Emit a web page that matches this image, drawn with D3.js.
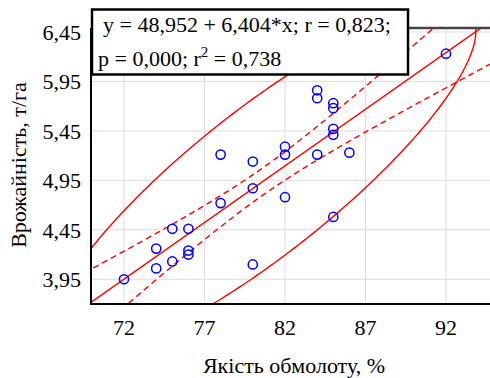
<!DOCTYPE html>
<html><head><meta charset="utf-8">
<script src="https://cdn.jsdelivr.net/npm/d3@7"></script>
<style>html,body{margin:0;padding:0;background:#fff;overflow:hidden}</style>
</head><body>
<svg id="c" width="490" height="378"></svg>
<script>
// Data
const threshQuality = [92,84,84,85,85,85,85,82,82,78,84,86,80,80,78,82,85,75,76,74,76,76,75,74,80,72];
const yieldVals     = [6.23,5.86,5.78,5.73,5.68,5.47,5.41,5.29,5.21,5.21,5.21,5.23,5.14,4.87,4.72,4.78,4.58,4.46,4.46,4.26,4.24,4.20,4.13,4.06,4.10,3.95];
const xTicks = [72,77,82,87,92];
const yTicks = [3.95,4.45,4.95,5.45,5.95,6.45];
const xTitle = "Якість обмолоту, %";
const yTitle = "Врожайність, т/га";
const legendLine1 = "y = 48,952 + 6,404*x; r = 0,823;";
const legendLine2a = "p = 0,000; r";
const legendLine2sup = "2";
const legendLine2b = " = 0,738";
// statistical constants (alpha = 0.05, df = n-2 = 24)
const tCrit = 2.0639;
const fCrit = 3.4028;

const svg = d3.select("#c");
const FONT = "'Liberation Serif','Times New Roman',serif";
const L = 91, R = 494, T = 28, B = 304;
const x = d3.scaleLinear().domain([70,95]).range([91.8,494.3]);
const y = d3.scaleLinear().domain([3.7,6.49]).range([304,28]);

// stats
const n = threshQuality.length;
const mx = d3.mean(threshQuality), my = d3.mean(yieldVals);
let sxx=0, syy=0, sxy=0;
for (let i=0;i<n;i++){const dx=threshQuality[i]-mx, dy=yieldVals[i]-my; sxx+=dx*dx; syy+=dy*dy; sxy+=dx*dy;}
const b = sxy/sxx, a = my - b*mx;
const s = Math.sqrt((syy - sxy*sxy/sxx)/(n-2));
const sdx = Math.sqrt(sxx/(n-1)), sdy = Math.sqrt(syy/(n-1));
const r = sxy/Math.sqrt(sxx*syy);

svg.append("clipPath").attr("id","clip").append("rect")
  .attr("x",L).attr("y",T).attr("width",R-L).attr("height",B-T);

// grid
const g = svg.append("g");
g.selectAll(".vg").data(xTicks).join("line")
  .attr("x1",d=>x(d)).attr("x2",d=>x(d)).attr("y1",T).attr("y2",B)
  .attr("stroke","#dcdcdc").attr("stroke-width",1);
g.selectAll(".hg").data(yTicks).join("line")
  .attr("x1",L).attr("x2",R).attr("y1",d=>y(d)).attr("y2",d=>y(d))
  .attr("stroke","#dcdcdc").attr("stroke-width",1);

const plot = svg.append("g").attr("clip-path","url(#clip)");
const xs = d3.range(69, 96.01, 0.1);
const line = d3.line().x(d=>x(d[0])).y(d=>y(d[1]));
// regression line
plot.append("path").attr("d", line([[69,a+b*69],[96,a+b*96]]))
  .attr("fill","none").attr("stroke","#ff0000").attr("stroke-width",1.4);
// confidence bands
[1,-1].forEach(sg=>{
  const pts = xs.map(v=>[v, a+b*v + sg*tCrit*s*Math.sqrt(1/n + (v-mx)*(v-mx)/sxx)]);
  plot.append("path").attr("d", line(pts)).attr("fill","none")
    .attr("stroke","#ff0000").attr("stroke-width",1.4).attr("stroke-dasharray","6,4");
});
// prediction ellipse
const k = Math.sqrt(2*(n+1)*(n-1)/(n*(n-2))*fCrit);
const ell = d3.range(0, 2*Math.PI+0.001, Math.PI/180).map(t=>[
  mx + k*sdx*Math.cos(t),
  my + k*sdy*(r*Math.cos(t) + Math.sqrt(1-r*r)*Math.sin(t))]);
plot.append("path").attr("d", line(ell)+"Z").attr("fill","none")
  .attr("stroke","#ff0000").attr("stroke-width",1.4);

// points
svg.append("g").selectAll("circle").data(threshQuality.map((v,i)=>[v,yieldVals[i]])).join("circle")
  .attr("cx",d=>x(d[0])).attr("cy",d=>y(d[1])).attr("r",4.6)
  .attr("fill","none").attr("stroke","#0000ff").attr("stroke-width",1.5);

// frame
svg.append("line").attr("x1",L).attr("x2",490).attr("y1",T).attr("y2",T).attr("stroke","#444").attr("stroke-width",2.5);
svg.append("line").attr("x1",L).attr("x2",490).attr("y1",B).attr("y2",B).attr("stroke","#000").attr("stroke-width",2);
svg.append("line").attr("x1",L).attr("x2",L).attr("y1",T).attr("y2",B+1).attr("stroke","#000").attr("stroke-width",2);

// tick labels
svg.append("g").selectAll("text").data(xTicks).join("text")
  .attr("x",d=>x(d)).attr("y",335).attr("text-anchor","middle")
  .attr("font-family",FONT).attr("font-size",22).attr("fill","#000").text(d=>d);
svg.append("g").selectAll("text").data(yTicks).join("text")
  .attr("x",81).attr("y",d=>y(d)+8).attr("text-anchor","end")
  .attr("font-family",FONT).attr("font-size",22).attr("fill","#000")
  .text(d=>d3.format(".2f")(d).replace(".",","));

// titles
svg.append("text").attr("x",294).attr("y",373).attr("text-anchor","middle")
  .attr("font-family",FONT).attr("font-size",22).text(xTitle);
svg.append("text").attr("transform","translate(26,165) rotate(-90)").attr("text-anchor","middle")
  .attr("font-family",FONT).attr("font-size",22).text(yTitle);

// legend
svg.append("rect").attr("x",92).attr("y",9.5).attr("width",316).attr("height",65)
  .attr("fill","#fff").attr("stroke","#000").attr("stroke-width",2.5);
svg.append("text").attr("x",103).attr("y",32).attr("font-family",FONT).attr("font-size",22).text(legendLine1);
const t2 = svg.append("text").attr("x",98).attr("y",66).attr("font-family",FONT).attr("font-size",22);
t2.append("tspan").text(legendLine2a);
t2.append("tspan").attr("dy",-9).attr("font-size",15).text(legendLine2sup);
t2.append("tspan").attr("dy",9).text(legendLine2b);
</script>
</body></html>
